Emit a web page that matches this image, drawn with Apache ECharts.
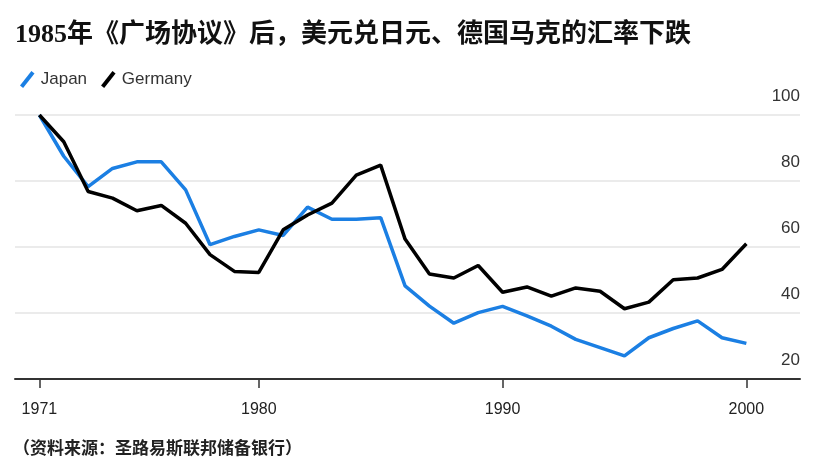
<!DOCTYPE html>
<html>
<head>
<meta charset="utf-8">
<script src="https://cdn.jsdelivr.net/npm/echarts@6/dist/echarts.min.js"></script>
<style>
  html, body { margin: 0; padding: 0; background: #fff; }
  #chart { width: 831px; height: 469px; }
</style>
</head>
<body>
<div id="chart"></div>
<script>
// years 1971..2000, index 1971 = 100
const years = [1971, 1972, 1973, 1974, 1975, 1976, 1977, 1978, 1979, 1980,
  1981, 1982, 1983, 1984, 1985, 1986, 1987, 1988, 1989, 1990,
  1991, 1992, 1993, 1994, 1995, 1996, 1997, 1998, 1999, 2000];
const japan = [100, 87.5, 78.3, 83.8, 85.8, 85.8, 77.3, 60.7, 63.2, 65.2,
  63.5, 72.1, 68.4, 68.4, 68.9, 48.2, 42.1, 36.9, 40.1, 42.0,
  39.1, 36.0, 32.0, 29.5, 27.0, 32.5, 35.3, 37.6, 32.5, 30.8];
const germany = [100, 91.9, 76.8, 74.8, 71.0, 72.6, 67.2, 57.7, 52.6, 52.3,
  65.2, 69.7, 73.3, 81.8, 84.8, 62.4, 51.8, 50.6, 54.4, 46.3,
  47.9, 45.1, 47.6, 46.6, 41.3, 43.3, 50.1, 50.6, 53.2, 61.0];
const xTicks = [1971, 1980, 1990, 2000];

const pair = (arr) => years.map((y, i) => [y, arr[i]]);

const chart = echarts.init(document.getElementById("chart"));
const slash = "path://M0,14 L11,0 L14,2.4 L3,16.4 Z";

const option = {
  backgroundColor: "#fff",
  animation: false,
  title: [
    {
      text: "1985年《广场协议》后，美元兑日元、德国马克的汇率下跌",
      left: 10,
      top: 17,
      textStyle: {
        fontFamily: "'Liberation Serif', 'Noto Sans CJK SC'",
        fontSize: 26,
        fontWeight: "bold",
        color: "#111",
      },
    },
    {
      text: "（资料来源：圣路易斯联邦储备银行）",
      left: 8,
      top: 436,
      textStyle: {
        fontFamily: "'Liberation Serif', 'Noto Sans CJK SC'",
        fontSize: 17,
        fontWeight: "bold",
        color: "#222",
      },
    },
  ],
  legend: {
    left: 15,
    top: 66,
    itemWidth: 17,
    itemHeight: 17,
    itemGap: 14,
    textStyle: { fontFamily: "'Liberation Sans'", fontSize: 17, color: "#333" },
    data: [
      { name: "Japan", icon: slash },
      { name: "Germany", icon: slash },
    ],
  },
  grid: { left: 15, right: 31, top: 115, bottom: 90 },
  xAxis: {
    type: "value",
    min: 1970,
    max: 2002.2,
    splitLine: { show: false },
    axisLine: { show: true, lineStyle: { color: "#333", width: 2 } },
    axisTick: {
      show: true,
      customValues: xTicks,
      length: 9,
      lineStyle: { color: "#333", width: 1.5 },
    },
    axisLabel: {
      customValues: xTicks,
      margin: 23,
      fontFamily: "'Liberation Sans'",
      fontSize: 16,
      color: "#222",
      formatter: (v) => String(v),
    },
  },
  yAxis: {
    type: "value",
    position: "right",
    min: 20,
    max: 100,
    interval: 20,
    axisLine: { show: false },
    axisTick: { show: false },
    splitLine: { lineStyle: { color: "#ebebeb", width: 2 } },
    axisLabel: {
      inside: true,
      margin: 0,
      verticalAlign: "bottom",
      padding: [0, 0, 10, 0],
      fontFamily: "'Liberation Sans'",
      fontSize: 17,
      color: "#333",
    },
  },
  series: [
    {
      name: "Japan",
      type: "line",
      data: pair(japan),
      symbol: "none",
      color: "#1b7fe3",
      lineStyle: { width: 3.5, color: "#1b7fe3" },
      z: 2,
    },
    {
      name: "Germany",
      type: "line",
      data: pair(germany),
      symbol: "none",
      color: "#000",
      lineStyle: { width: 3.5, color: "#000" },
      z: 3,
    },
  ],
};

chart.setOption(option);
</script>
</body>
</html>
